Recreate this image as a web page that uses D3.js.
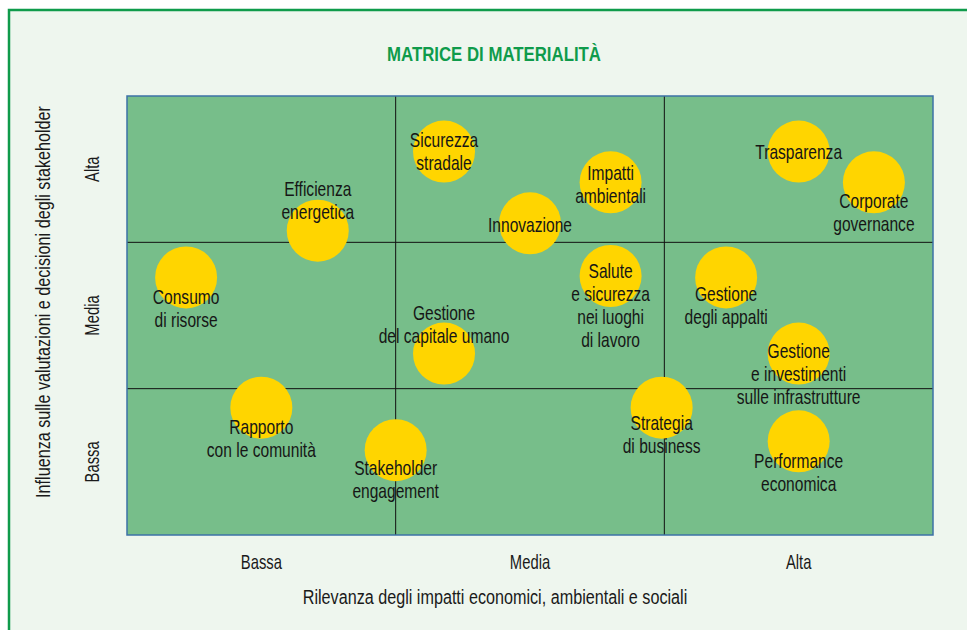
<!DOCTYPE html>
<html>
<head>
<meta charset="utf-8">
<script src="https://cdn.jsdelivr.net/npm/d3@7"></script>
<style>
    body { margin: 0; background: #fff; }
    svg { display: block; font-family: "Liberation Sans", Arial, sans-serif; }
</style>
</head>
<body>
<svg id="matrix" width="967" height="630"></svg>
<script>
// livelli degli assi
const levels = ['Bassa', 'Media', 'Alta'];

// temi materiali (righe dell'etichetta)
const topics = [
    ['Efficienza', 'energetica'],
    ['Consumo', 'di risorse'],
    ['Sicurezza', 'stradale'],
    ['Impatti', 'ambientali'],
    ['Innovazione'],
    ['Salute', 'e sicurezza', 'nei luoghi', 'di lavoro'],
    ['Trasparenza'],
    ['Corporate', 'governance'],
    ['Gestione', 'degli appalti'],
    ['Gestione', 'del capitale umano'],
    ['Gestione', 'e investimenti', 'sulle infrastrutture'],
    ['Rapporto', 'con le comunità'],
    ['Strategia', 'di business'],
    ['Stakeholder', 'engagement'],
    ['Performance', 'economica']
];
// rilevanza impatti (asse x, 0-3)
const impact = [0.71, 0.22, 1.18, 1.80, 1.50, 1.80, 2.50, 2.78, 2.23, 1.18, 2.50, 0.50, 1.99, 1.00, 2.50];
// influenza stakeholder (asse y, 0-3)
const influence = [2.08, 1.76, 2.62, 2.41, 2.13, 1.77, 2.62, 2.41, 1.76, 1.24, 1.24, 0.87, 0.87, 0.58, 0.64];

// spostamento della prima riga di testo rispetto al centro del cerchio (px)
const labelShift = [-42, 19, -12, -10, 1, -5, 0, 18, 16, -41, -3, 19, 15, 17, 19];

const svg = d3.select('#matrix'),
    margin = { top: 96, right: 34, bottom: 95, left: 127 },
    width = 967 - margin.left - margin.right,
    height = 630 - margin.top - margin.bottom,
    lineH = 23,
    radius = 31,
    green = '#0f9b4b';

// niente font condensato installato: si stringe il testo in orizzontale
function narrow(k) { return 'scale(' + k + ',1)'; }

// cornice
svg.append('rect')
    .attr('x', 9).attr('y', 10).attr('width', 990).attr('height', 640)
    .attr('fill', '#eef6ee')
    .attr('stroke', green)
    .attr('stroke-width', 2.5);

svg.append('text')
    .attr('transform', 'translate(494,61) ' + narrow(0.8))
    .attr('text-anchor', 'middle')
    .attr('fill', green)
    .style('font-size', '21px')
    .style('font-weight', 'bold')
    .text('MATRICE DI MATERIALITÀ');

const g = svg.append('g').attr('transform', 'translate(' + margin.left + ',' + margin.top + ')');

const x = d3.scaleLinear().domain([0, 3]).range([0, width]);
const y = d3.scaleLinear().domain([0, 3]).range([height, 0]);
const xBand = d3.scaleBand().domain(levels).range([0, width]);
const yBand = d3.scaleBand().domain(levels).range([height, 0]);

g.append('rect')
    .attr('width', width).attr('height', height)
    .attr('fill', '#77be8a');

// griglia 3x3
g.selectAll('.vline').data([1, 2]).enter().append('line')
    .attr('x1', d => x(d)).attr('x2', d => x(d))
    .attr('y1', 0).attr('y2', height)
    .attr('stroke', '#111').attr('stroke-width', 1);
g.selectAll('.hline').data([1, 2]).enter().append('line')
    .attr('y1', d => y(d)).attr('y2', d => y(d))
    .attr('x1', 0).attr('x2', width)
    .attr('stroke', '#111').attr('stroke-width', 1);

g.append('rect')
    .attr('width', width).attr('height', height)
    .attr('fill', 'none')
    .attr('stroke', '#3d72a6')
    .attr('stroke-width', 1.5);

// assi
g.append('g')
    .attr('transform', 'translate(0,' + height + ')')
    .call(d3.axisBottom(xBand).tickSize(0).tickPadding(0))
    .call(a => {
        a.select('.domain').remove();
        a.selectAll('text')
            .attr('y', 0).attr('dy', null)
            .attr('transform', 'translate(0,34) ' + narrow(0.74))
            .style('font-size', '20px').style('font-family', null).attr('fill', '#1a1a1a');
    });

g.append('g')
    .call(d3.axisLeft(yBand).tickSize(0).tickPadding(0))
    .call(a => {
        a.select('.domain').remove();
        a.selectAll('text')
            .attr('x', 0).attr('dy', null)
            .attr('transform', 'translate(-35,0) rotate(-90) ' + narrow(0.74))
            .attr('text-anchor', 'middle')
            .attr('dominant-baseline', 'central')
            .style('font-size', '20px').style('font-family', null).attr('fill', '#1a1a1a');
    });

svg.append('text')
    .attr('transform', 'translate(495,604) ' + narrow(0.77))
    .attr('text-anchor', 'middle')
    .attr('fill', '#1a1a1a')
    .style('font-size', '21px')
    .text('Rilevanza degli impatti economici, ambientali e sociali');

svg.append('text')
    .attr('transform', 'translate(50,302) rotate(-90) ' + narrow(0.77))
    .attr('text-anchor', 'middle')
    .attr('fill', '#1a1a1a')
    .style('font-size', '21px')
    .text('Influenza sulle valutazioni e decisioni degli stakeholder');

// cerchi
g.selectAll('.bubble').data(topics).enter().append('circle')
    .attr('cx', (d, i) => x(impact[i]))
    .attr('cy', (d, i) => y(influence[i]))
    .attr('r', radius)
    .attr('fill', '#ffd500');

// etichette
const labels = g.selectAll('.label').data(topics).enter().append('text')
    .attr('transform', (d, i) => 'translate(' + x(impact[i]) + ',' + (y(influence[i]) + labelShift[i] + 7.5) + ') ' + narrow(0.76))
    .attr('text-anchor', 'middle')
    .attr('fill', '#161616')
    .style('font-size', '20.5px');

labels.each(function (d) {
    const t = d3.select(this);
    d.forEach(function (line, k) {
        t.append('tspan')
            .attr('x', 0)
            .attr('y', k * lineH)
            .text(line);
    });
});
</script>
</body>
</html>
